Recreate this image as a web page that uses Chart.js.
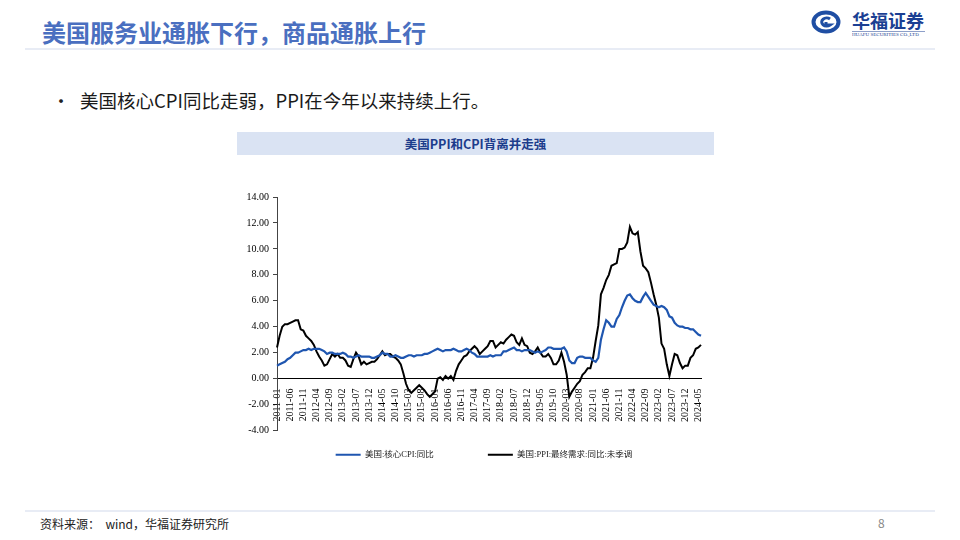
<!DOCTYPE html>
<html>
<head>
<meta charset="utf-8">
<script src="https://cdn.jsdelivr.net/npm/chart.js@4.4.0/dist/chart.umd.min.js"></script>
<style>
  body { margin: 0; width: 960px; height: 540px; position: relative; overflow: hidden; background: #fff;
         font-family: "Noto Sans CJK SC", sans-serif; }
  .title { position: absolute; left: 42px; top: 18px; font-size: 24px; line-height: 28px; font-weight: bold; color: #4a6fc0; }
  .topline { position: absolute; left: 25px; top: 48px; width: 910px; height: 2px; background: #e8ecf5; }
  .logo-name { position: absolute; left: 852px; top: 8px; font-size: 18px; line-height: 24px; font-weight: bold; color: #1b3f93; letter-spacing: 0; }
  .logo-sub { position: absolute; left: 852px; top: 31px; width: 146px; font-size: 10px; line-height: 10px; color: #1b3f93;
              transform: scale(0.5); transform-origin: 0 0; white-space: nowrap; font-family: "Liberation Serif", serif; border-top: 1px solid #1b3f93; padding-top: 1px; }
  .bullet { position: absolute; left: 52px; top: 86px; font-size: 18px; line-height: 28px; color: #222; }
  .lead { position: absolute; left: 80px; top: 86px; font-size: 18.5px; line-height: 28px; color: #1a1a1a; }
  .chart-title { position: absolute; left: 237px; top: 132px; width: 477px; height: 23px; background: #dae3f3;
                 text-align: center; font-size: 12.5px; line-height: 23px; font-weight: bold; color: #1c3c8c; }
  .chart-box { position: absolute; left: 230px; top: 185px; width: 485px; height: 290px; }
  .botline { position: absolute; left: 25px; top: 510px; width: 910px; height: 2px; background: #e8ecf5; }
  .source { position: absolute; left: 40px; top: 515px; font-size: 12px; line-height: 18px; color: #222; }
  .page { position: absolute; left: 878px; top: 514px; font-size: 12px; line-height: 18px; color: #888; }
</style>
</head>
<body>

<div class="title">美国服务业通胀下行，商品通胀上行</div>
<div class="topline"></div>

<svg style="position:absolute;left:811px;top:10px" width="30" height="24" viewBox="0 0 30 24">
  <ellipse cx="15" cy="12" rx="12.5" ry="9.5" fill="none" stroke="#1f4ea3" stroke-width="4"/>
  <path d="M19 9 A5 4 0 1 0 19 15 L15 15 L15 12" fill="none" stroke="#1f4ea3" stroke-width="3"/>
</svg>
<div class="logo-name">华福证券</div>
<div class="logo-sub">HUAFU SECURITIES CO.,LTD</div>

<div class="bullet">•</div>
<div class="lead">美国核心CPI同比走弱，PPI在今年以来持续上行。</div>

<div class="chart-title">美国PPI和CPI背离并走强</div>
<div class="chart-box"><canvas id="chart" width="485" height="290"></canvas></div>

<div class="botline"></div>
<div class="source">资料来源：&nbsp;&nbsp;wind，华福证券研究所</div>
<div class="page">8</div>

<script>
// monthly, 2011-01 .. 2024-06
const startYear = 2011
const monthCount = 162
const months = []
for (let i = 0; i < monthCount; i++) {
  let y = startYear + Math.floor(i / 12)
  let m = i % 12 + 1
  months.push(y + '-' + (m < 10 ? '0' + m : m))
}

// 美国:核心CPI:同比
const coreCpi = [
  1.0, 1.1, 1.2, 1.3, 1.5, 1.6, 1.8, 2.0, 2.0, 2.1, 2.2, 2.2,
  2.3, 2.2, 2.3, 2.3, 2.3, 2.2, 2.1, 1.9, 2.0, 2.0, 1.9, 1.9,
  1.9, 2.0, 1.9, 1.7, 1.7, 1.6, 1.7, 1.8, 1.7, 1.7, 1.7, 1.7,
  1.6, 1.6, 1.7, 1.8, 2.0, 1.9, 1.9, 1.7, 1.7, 1.8, 1.7, 1.6,
  1.6, 1.7, 1.8, 1.8, 1.7, 1.8, 1.8, 1.8, 1.9, 1.9, 2.0, 2.1,
  2.2, 2.3, 2.2, 2.1, 2.2, 2.2, 2.2, 2.3, 2.2, 2.1, 2.1, 2.2,
  2.3, 2.2, 2.0, 1.9, 1.7, 1.7, 1.7, 1.7, 1.7, 1.8, 1.7, 1.8,
  1.8, 1.8, 2.1, 2.1, 2.2, 2.3, 2.4, 2.2, 2.2, 2.1, 2.2, 2.2,
  2.2, 2.1, 2.0, 2.1, 2.0, 2.1, 2.2, 2.4, 2.4, 2.3, 2.3, 2.3,
  2.3, 2.4, 2.1, 1.4, 1.2, 1.2, 1.6, 1.7, 1.7, 1.6, 1.6, 1.6,
  1.4, 1.3, 1.6, 3.0, 3.8, 4.5, 4.3, 4.0, 4.0, 4.6, 4.9, 5.5,
  6.0, 6.4, 6.5, 6.2, 6.0, 5.9, 5.9, 6.3, 6.6, 6.3, 6.0, 5.7,
  5.6, 5.5, 5.6, 5.5, 5.3, 4.8, 4.7, 4.3, 4.1, 4.0, 4.0, 3.9,
  3.9, 3.8, 3.8, 3.6, 3.4, 3.3
]

// 美国:PPI:最终需求:同比:未季调
const ppiFinal = [
  2.4, 3.3, 4.0, 4.2, 4.2, 4.3, 4.4, 4.5, 4.5, 3.8, 3.7, 3.3,
  3.1, 2.9, 2.6, 2.1, 1.7, 1.4, 1.0, 1.1, 1.5, 1.9, 1.7, 1.9,
  1.6, 1.6, 1.4, 1.0, 0.9, 1.5, 2.0, 1.7, 1.1, 1.3, 1.1, 1.2,
  1.3, 1.3, 1.5, 1.8, 2.1, 1.8, 1.9, 1.9, 1.7, 1.6, 1.4, 1.1,
  0.4, -0.4, -0.9, -1.1, -0.9, -0.7, -0.5, -0.7, -0.9, -1.2, -1.4, -1.2,
  -1.0, 0.0, 0.1, -0.1, 0.2, 0.0, 0.2, -0.1, 0.6, 1.1, 1.4, 1.7,
  1.8, 2.1, 2.3, 2.5, 2.3, 1.9, 2.1, 2.3, 2.5, 2.9, 2.9, 2.4,
  2.6, 2.8, 2.7, 3.0, 3.2, 3.4, 3.3, 2.8, 2.6, 3.1, 2.6, 2.5,
  2.0, 1.9, 2.1, 2.4, 2.0, 1.7, 1.7, 1.9, 1.6, 1.1, 1.1, 1.4,
  2.0, 1.3, 0.3, -1.4, -1.0, -0.7, -0.4, -0.2, 0.3, 0.5, 0.8, 0.8,
  1.6, 2.9, 4.1, 6.5, 7.0, 7.6, 8.0, 8.7, 8.8, 8.9, 10.0, 10.0,
  10.1, 10.5, 11.7, 11.2, 11.1, 11.3, 9.8, 8.7, 8.5, 8.2, 7.4, 6.5,
  5.7, 4.7, 2.7, 2.3, 1.1, 0.2, 1.1, 1.9, 1.8, 1.2, 0.8, 1.0,
  1.0, 1.6, 1.8, 2.3, 2.4, 2.6
]

const yMin = -4
const yMax = 14
const yStep = 2
const labelEvery = 5

const serif = '"Liberation Serif", "Times New Roman", "Noto Sans CJK SC", serif'

// nudge the legend a little to the right, as in the source
const legendShift = {
  id: 'legendShift',
  afterLayout(chart) {
    chart.legend.left += 13
    chart.legend.right += 13
  }
}

const ctx = document.getElementById('chart').getContext('2d')

new Chart(ctx, {
  type: 'line',
  data: {
    labels: months,
    datasets: [{
      label: '美国:核心CPI:同比',
      data: coreCpi,
      borderColor: '#1f56b0',
      backgroundColor: '#1f56b0',
      borderWidth: 2.2,
      pointRadius: 0,
      pointStyle: 'line',
      tension: 0
    }, {
      label: '美国:PPI:最终需求:同比:未季调',
      data: ppiFinal,
      borderColor: '#000',
      backgroundColor: '#000',
      borderWidth: 2,
      pointRadius: 0,
      pointStyle: 'line',
      tension: 0
    }]
  },
  options: {
    responsive: false,
    animation: false,
    devicePixelRatio: 1,
    layout: { padding: { top: 12, right: 3, bottom: 6, left: 0 } },
    plugins: {
      tooltip: { enabled: false },
      legend: {
        position: 'bottom',
        labels: {
          usePointStyle: true,
          pointStyleWidth: 25,
          padding: 20,
          color: '#222',
          font: { family: serif, size: 8.5 },
          generateLabels: function (chart) {
            let items = Chart.defaults.plugins.legend.labels.generateLabels(chart)
            items[0].text = items[0].text + '\u3000\u3000\u3000\u3000'
            return items
          }
        }
      }
    },
    scales: {
      x: {
        position: { y: 0 },
        grid: { display: false },
        border: { display: true, color: '#000', width: 1 },
        ticks: {
          autoSkip: false,
          maxRotation: 90,
          minRotation: 90,
          padding: 2,
          color: '#000',
          font: { family: serif, size: 10 },
          callback: function (v, i) {
            return i % labelEvery === 0 ? months[i] : ''
          }
        }
      },
      y: {
        min: yMin,
        max: yMax,
        afterFit: function (scale) { scale.width = 47 },
        grid: { drawOnChartArea: false, tickLength: 4, color: '#444' },
        border: { display: true, color: '#444', width: 1 },
        ticks: {
          stepSize: yStep,
          padding: 4,
          color: '#000',
          font: { family: serif, size: 10 },
          callback: function (v) { return v.toFixed(2) }
        }
      }
    }
  },
  plugins: [legendShift]
})
</script>
</body>
</html>
